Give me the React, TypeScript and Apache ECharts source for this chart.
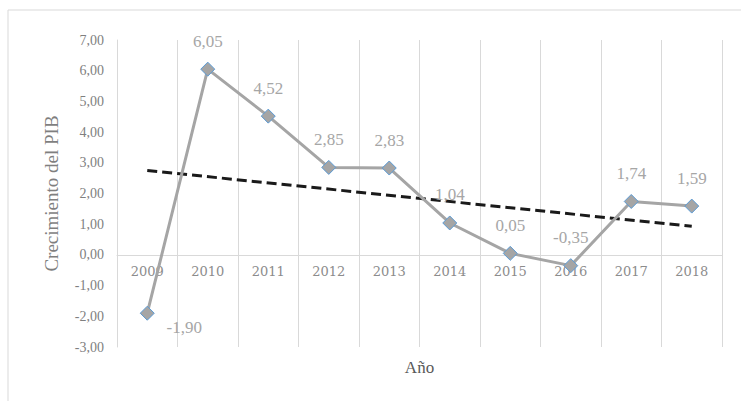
import React, { useEffect, useRef } from "react";
import * as echarts from "echarts";

const years = ["2009", "2010", "2011", "2012", "2013", "2014", "2015", "2016", "2017", "2018"];
const growth = [-1.9, 6.05, 4.52, 2.85, 2.83, 1.04, 0.05, -0.35, 1.74, 1.59];
const trendStart = 2.75;
const trendEnd = 0.93;
const yMin = -3;
const yMax = 7;
const yStep = 1;

const fmt = (v: number) => v.toFixed(2).replace(".", ",");
const serif = "Liberation Serif";

const gridTop = 40;
const gridBottom = 54;
const chartH = 401;

export default function App() {
  const ref = useRef<HTMLDivElement>(null);
  useEffect(() => {
    if (!ref.current) return;
    const chart = echarts.init(ref.current, null, { renderer: "svg" });
    const trend = years.map((_, i) => (i === 0 ? trendStart : i === years.length - 1 ? trendEnd : null));
    const plotH = chartH - gridTop - gridBottom;
    const zeroOffset = -Math.round((plotH * (0 - yMin)) / (yMax - yMin));
    chart.setOption({
      animation: false,
      backgroundColor: "#ffffff",
      textStyle: { fontFamily: serif },
      graphic: [
        {
          type: "rect",
          shape: { x: 8, y: 10, width: 745, height: 400 },
          style: { fill: "none", stroke: "#d9d9d9", lineWidth: 1 },
          silent: true,
          z: -1,
        },
      ],
      grid: { left: 117, right: 19, top: gridTop, bottom: gridBottom, outerBoundsMode: "none", containLabel: false },
      xAxis: {
        type: "category",
        data: years,
        boundaryGap: true,
        offset: zeroOffset,
        name: "Año",
        nameLocation: "middle",
        nameGap: 104,
        nameTextStyle: { fontFamily: serif, fontSize: 17, color: "#595959" },
        axisLine: { show: true, onZero: false, lineStyle: { color: "#d9d9d9", width: 1 } },
        axisTick: { show: false },
        axisLabel: { fontFamily: "DejaVu Serif", fontSize: 13, color: "#8c8c8c", margin: 10 },
        splitLine: { show: true, lineStyle: { color: "#d9d9d9", width: 1 } },
      },
      yAxis: {
        type: "value",
        min: yMin,
        max: yMax,
        interval: yStep,
        name: "Crecimiento del PIB",
        nameLocation: "middle",
        nameGap: 56,
        nameRotate: 90,
        nameTextStyle: { fontFamily: serif, fontSize: 19, color: "#7f7f7f" },
        axisLine: { show: true, lineStyle: { color: "#d9d9d9", width: 1 } },
        axisTick: { show: false },
        splitLine: { show: false },
        axisLabel: { fontFamily: serif, fontSize: 14, color: "#7f7f7f", margin: 13, formatter: (v: number) => fmt(v) },
      },
      series: [
        {
          name: "Crecimiento",
          type: "line",
          data: growth,
          z: 3,
          symbol: "diamond",
          symbolSize: 14,
          lineStyle: { color: "#a5a5a5", width: 3 },
          itemStyle: { color: "#a5a5a5", borderColor: "#5b9bd5", borderWidth: 1 },
          label: {
            show: true,
            position: "top",
            distance: 12,
            fontFamily: serif,
            fontSize: 17,
            color: "#a6a6a6",
            formatter: (p: any) => fmt(p.value),
          },
          labelLayout: (p: any) => (p.dataIndex === 0 ? { dx: 37, dy: 42 } : {}),
        },
        {
          name: "Tendencia",
          type: "line",
          data: trend,
          connectNulls: true,
          z: 2,
          symbol: "none",
          lineStyle: { color: "#1a1a1a", width: 3, type: [10, 5] },
          silent: true,
        },
      ],
    });
    return () => chart.dispose();
  }, []);
  return <div ref={ref} style={{ position: "fixed", left: 0, top: 0, width: 741, height: 401 }} />;
}
